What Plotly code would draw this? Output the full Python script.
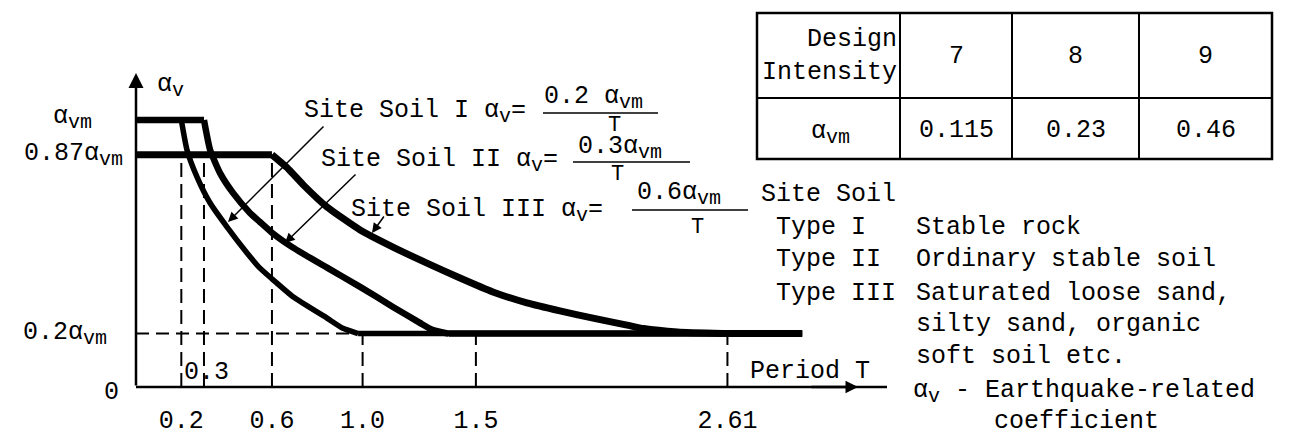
import plotly.graph_objects as go

W, H = 1291, 436
OFF = 8  # page body margin in the browser
FW, FH = W - OFF, H - OFF
FONT = "Liberation Mono"
FS = 25

# ---------------- data ----------------
period_ticks = [0.2, 0.6, 1.0, 1.5, 2.61]
period_tick_labels = ["0.2", "0.6", "1.0", "1.5", "2.61"]

SUB = "<sub><span style='font-size:20px'>{}</span></sub>"
AVM = "α" + SUB.format("vm")
AV = "α" + SUB.format("v")

level_vals = [0, 0.2, 0.87, 1.0]
level_labels = ["0", "0.2" + AVM, "0.87" + AVM, AVM]

soil1_T = [0, 0.2, 0.225, 0.269, 0.327, 0.402, 0.49, 0.547, 0.60, 0.693, 0.843, 0.913, 0.98, 2.94]
soil1_a = [1.0, 1.0, 0.888, 0.787, 0.689, 0.599, 0.502, 0.445, 0.405, 0.338, 0.258, 0.22, 0.2, 0.2]

soil2_T = [0, 0.3, 0.327, 0.371, 0.428, 0.503, 0.547, 0.60, 0.693, 0.843, 0.989, 1.134, 1.253, 1.311, 1.38, 2.94]
soil2_a = [1.0, 1.0, 0.888, 0.801, 0.727, 0.652, 0.618, 0.578, 0.522, 0.447, 0.375, 0.30, 0.24, 0.213, 0.2, 0.2]

soil3_T = [0, 0.6, 0.666, 0.737, 0.843, 0.989, 1.134, 1.284, 1.43, 1.575, 1.725, 1.871, 2.017, 2.167, 2.24, 2.39, 2.59, 2.94]
soil3_a = [0.87, 0.87, 0.822, 0.758, 0.674, 0.588, 0.524, 0.464, 0.408, 0.356, 0.315, 0.285, 0.258, 0.232, 0.219, 0.206, 0.2, 0.2]

guide_high_T = [0.2, 0.3, 0.6]      # dashed up to the 0.87 level
guide_low_T = [1.0, 1.5, 2.61]      # dashed up to the 0.2 level
guide_level = 0.2

intensities = [7, 8, 9]
alpha_vm = [0.115, 0.23, 0.46]

legend_types = ["Type I", "Type II", "Type III"]
legend_desc = ["Stable rock", "Ordinary stable soil", "Saturated loose sand,",
               "silty sand, organic", "soft soil etc."]

formula_names = ["Site Soil I", "Site Soil II", "Site Soil III"]
formula_nums = ["0.2 " + AVM, "0.3" + AVM, "0.6" + AVM]

# ---------------- geometry helpers (window pixels) ----------------
X0_PX, PX_PER_T = 136, 226.6
Y0_PX, PX_PER_A = 387, 267
x_range = [-(X0_PX - OFF) / PX_PER_T, (W - X0_PX) / PX_PER_T]
y_range = [-(H - Y0_PX) / PX_PER_A, (Y0_PX - OFF) / PX_PER_A]


def pxx(x):
    return (x - OFF) / FW


def pxy(y):
    return 1 - (y - OFF) / FH


def t_of(px):
    return (px - X0_PX) / PX_PER_T


def a_of(py):
    return (Y0_PX - py) / PX_PER_A


fig = go.Figure()

# dashed guides
for t in guide_high_T:
    fig.add_trace(go.Scatter(x=[t, t], y=[0, level_vals[2]], mode="lines",
                             line=dict(color="black", width=2, dash="14px,7px"),
                             hoverinfo="skip", showlegend=False))
for t in guide_low_T:
    fig.add_trace(go.Scatter(x=[t, t], y=[0, guide_level], mode="lines",
                             line=dict(color="black", width=2, dash="14px,7px"),
                             hoverinfo="skip", showlegend=False))
fig.add_trace(go.Scatter(x=[0, soil1_T[-2]], y=[guide_level, guide_level], mode="lines",
                         line=dict(color="black", width=2, dash="13px,7px"),
                         hoverinfo="skip", showlegend=False))

# curves: flat plateaus straight, descending branch smoothed
for T, a, w in [(soil1_T, soil1_a, 5.5), (soil2_T, soil2_a, 6.5), (soil3_T, soil3_a, 7)]:
    fig.add_trace(go.Scatter(x=T[:2], y=a[:2], mode="lines",
                             line=dict(color="black", width=w),
                             hoverinfo="skip", showlegend=False))
    fig.add_trace(go.Scatter(x=T[1:-1], y=a[1:-1], mode="lines",
                             line=dict(color="black", width=w, shape="spline", smoothing=0.5),
                             hoverinfo="skip", showlegend=False))
    fig.add_trace(go.Scatter(x=T[-2:], y=a[-2:], mode="lines",
                             line=dict(color="black", width=w),
                             hoverinfo="skip", showlegend=False))

# axes lines
x_end = t_of(887)
y_end = a_of(73)
shapes = [
    dict(type="line", xref="x", yref="y", x0=0, x1=x_end, y0=0, y1=0,
         line=dict(color="black", width=2.5)),
]
annotations = []
annotations.append(dict(x=0, y=y_end, ax=0, ay=0, xref="x", yref="y", axref="x", ayref="y",
                        showarrow=True, arrowhead=2, arrowsize=1.2, arrowwidth=2.5,
                        arrowcolor="black", text=""))
annotations.append(dict(x=t_of(858), y=0, ax=t_of(810), ay=0, xref="x", yref="y",
                        axref="x", ayref="y", showarrow=True, arrowhead=2, arrowsize=1.0,
                        arrowwidth=2.5, arrowcolor="black", text=""))

txtfont = dict(family=FONT, size=FS, color="black")


def text(s, x, y, xanchor="left", yanchor="middle", size=FS, align="left"):
    annotations.append(dict(text=s, x=pxx(x), y=pxy(y), xref="paper", yref="paper",
                            xanchor=xanchor, yanchor=yanchor, showarrow=False, align=align,
                            borderpad=0,
                            font=dict(family=FONT, size=size, color="black")))


# y labels
y_label_right = [121, 109, 125, 94]
y_label_shift = [-5, 0, 0, 2]
for v, lab, r, sh in zip(level_vals, level_labels, y_label_right, y_label_shift):
    annotations.append(dict(text=lab, x=pxx(r), y=v, xref="paper", yref="y",
                            xanchor="right", yanchor="middle", yshift=sh, showarrow=False,
                            font=txtfont))

text(AV, 156, 86)
text("0.3", 206, 372, xanchor="center")
text("Period T", 749, 371)

# formulas
name_left = [303, 320, 350]
name_y = [112, 161, 211]
num_left = [543, 577, 636]
num_y = [98, 148, 194]
bar_x = [(543, 658), (573, 690), (632, 748)]
bar_y = [113, 162, 210]
den_x = [614, 617, 697]
den_y = [125, 174, 228]
for i in range(3):
    text(formula_names[i] + " " + AV + "=" + (" " if i == 2 else ""), name_left[i], name_y[i])
    text(formula_nums[i], num_left[i], num_y[i])
    shapes.append(dict(type="line", xref="paper", yref="paper",
                       x0=pxx(bar_x[i][0]), x1=pxx(bar_x[i][1]),
                       y0=pxy(bar_y[i]), y1=pxy(bar_y[i]),
                       line=dict(color="black", width=1.5)))
    text("T", den_x[i], den_y[i], xanchor="center", size=22)

# pointer arrows
pointers = [((325, 125), (228, 222)), ((357, 173), (285, 243)), ((385, 215), (372, 233))]
for (tx, ty), (hx, hy) in pointers:
    annotations.append(dict(x=t_of(hx), y=a_of(hy), ax=t_of(tx), ay=a_of(ty),
                            xref="x", yref="y", axref="x", ayref="y", showarrow=True,
                            arrowhead=2, arrowsize=1.3, arrowwidth=1.5, arrowcolor="black",
                            text=""))

# legend block
text("Site Soil", 760, 194)
type_y = [228, 259, 293]
for s, y in zip(legend_types, type_y):
    text(s, 775, y)
desc_y = [228, 259, 293, 324, 356]
for s, y in zip(legend_desc, desc_y):
    text(s, 915, y)
text(AV + " - Earthquake-related", 912, 392)
text("coefficient", 993, 421)

# table (lines + cell texts)
col_edges = [757, 900, 1012, 1139, 1272]
row_edges = [13, 98, 159]
shapes.append(dict(type="rect", xref="paper", yref="paper",
                   x0=pxx(col_edges[0]), x1=pxx(col_edges[-1]),
                   y0=pxy(row_edges[0]), y1=pxy(row_edges[-1]),
                   line=dict(color="black", width=2.5)))
for cx in col_edges[1:-1]:
    shapes.append(dict(type="line", xref="paper", yref="paper", x0=pxx(cx), x1=pxx(cx),
                       y0=pxy(row_edges[0]), y1=pxy(row_edges[-1]),
                       line=dict(color="black", width=2)))
shapes.append(dict(type="line", xref="paper", yref="paper",
                   x0=pxx(col_edges[0]), x1=pxx(col_edges[-1]),
                   y0=pxy(row_edges[1]), y1=pxy(row_edges[1]),
                   line=dict(color="black", width=2)))
row1_y = (row_edges[0] + row_edges[1]) / 2 + 1
row2_y = (row_edges[1] + row_edges[2]) / 2 + 2
text("Design<br>Intensity", col_edges[1] - 2, row1_y - 1, xanchor="right", align="right")
text(AVM, (col_edges[0] + col_edges[1]) / 2 + 2, row2_y + 2, xanchor="center")
for j, (inten, av) in enumerate(zip(intensities, alpha_vm)):
    cx = (col_edges[j + 1] + col_edges[j + 2]) / 2
    text(str(inten), cx, row1_y, xanchor="center")
    text(f"{av:g}", cx, row2_y, xanchor="center")

fig.update_layout(
    width=FW, height=FH, margin=dict(l=0, r=0, t=0, b=0),
    paper_bgcolor="white", plot_bgcolor="white",
    xaxis=dict(range=x_range, domain=[0, 1], anchor="free", position=(H - Y0_PX) / FH,
               showgrid=False, zeroline=False, showline=False, ticks="",
               tickvals=period_ticks, ticktext=period_tick_labels,
               tickfont=txtfont, ticklabelstandoff=15),
    yaxis=dict(range=y_range, domain=[0, 1], visible=False),
    shapes=shapes, annotations=annotations, showlegend=False,
)

fig.write_html("out.html")
